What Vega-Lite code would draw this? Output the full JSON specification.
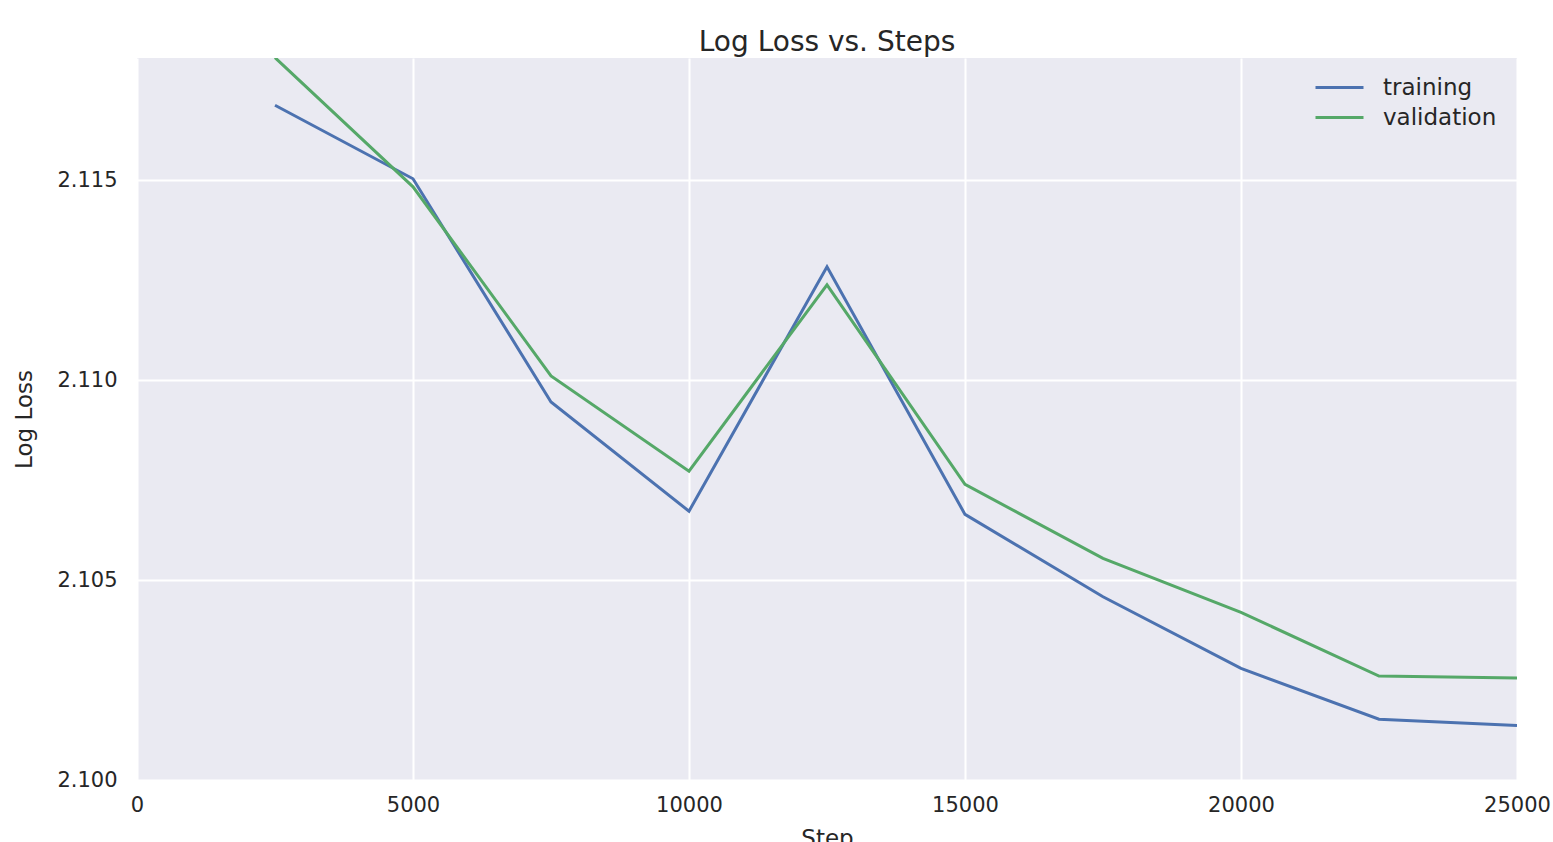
{
  "$schema": "https://vega.github.io/schema/vega-lite/v6.json",
  "width": 1380,
  "height": 722,
  "autosize": {"type": "none"},
  "padding": {"left": 137, "top": 58, "right": 36, "bottom": 62},
  "background": "#ffffff",
  "title": {
    "text": "Log Loss vs. Steps",
    "fontSize": 28,
    "fontWeight": "normal",
    "font": "DejaVu Sans",
    "color": "#262626",
    "anchor": "middle",
    "baseline": "alphabetic",
    "offset": 8,
    "dy": 29
  },
  "config": {
    "font": "DejaVu Sans",
    "view": {"fill": "#EAEAF2", "stroke": null},
    "axis": {
      "domain": false,
      "ticks": false,
      "tickSize": 0,
      "gridColor": "#ffffff",
      "gridWidth": 2,
      "gridOpacity": 1,
      "labelFont": "DejaVu Sans",
      "labelFontSize": 21,
      "labelColor": "#262626",
      "titleFont": "DejaVu Sans",
      "titleFontSize": 23,
      "titleFontWeight": "normal",
      "titleColor": "#262626"
    },
    "legend": {
      "labelFont": "DejaVu Sans",
      "labelFontSize": 23,
      "labelColor": "#262626"
    }
  },
  "data": {
    "values": [
      {"step": 2500, "loss": 2.11687, "series": "training"},
      {"step": 5000, "loss": 2.11503, "series": "training"},
      {"step": 7500, "loss": 2.10945, "series": "training"},
      {"step": 10000, "loss": 2.10672, "series": "training"},
      {"step": 12500, "loss": 2.11283, "series": "training"},
      {"step": 15000, "loss": 2.10664, "series": "training"},
      {"step": 17500, "loss": 2.10458, "series": "training"},
      {"step": 20000, "loss": 2.10279, "series": "training"},
      {"step": 22500, "loss": 2.10152, "series": "training"},
      {"step": 25000, "loss": 2.10136, "series": "training"},
      {"step": 2500, "loss": 2.11806, "series": "validation"},
      {"step": 5000, "loss": 2.11483, "series": "validation"},
      {"step": 7500, "loss": 2.1101, "series": "validation"},
      {"step": 10000, "loss": 2.10772, "series": "validation"},
      {"step": 12500, "loss": 2.11238, "series": "validation"},
      {"step": 15000, "loss": 2.10739, "series": "validation"},
      {"step": 17500, "loss": 2.10554, "series": "validation"},
      {"step": 20000, "loss": 2.10419, "series": "validation"},
      {"step": 22500, "loss": 2.1026, "series": "validation"},
      {"step": 25000, "loss": 2.10255, "series": "validation"}
    ]
  },
  "mark": {"type": "line", "strokeWidth": 3, "clip": true},
  "encoding": {
    "x": {
      "field": "step",
      "type": "quantitative",
      "title": "Step",
      "scale": {"domain": [0, 25000], "nice": false, "zero": false},
      "axis": {
        "values": [0, 5000, 10000, 15000, 20000, 25000],
        "format": "d",
        "labelPadding": 14,
        "titlePadding": 12,
        "labelFlush": false
      }
    },
    "y": {
      "field": "loss",
      "type": "quantitative",
      "title": "Log Loss",
      "scale": {"domain": [2.1, 2.11805], "nice": false, "zero": false},
      "axis": {
        "values": [2.1, 2.105, 2.11, 2.115],
        "format": ".3f",
        "labelPadding": 20,
        "titlePadding": 20,
        "labelFlush": false
      }
    },
    "color": {
      "field": "series",
      "type": "nominal",
      "scale": {"domain": ["training", "validation"], "range": ["#4C72B0", "#55A868"]},
      "legend": {
        "title": null,
        "orient": "none",
        "legendX": 1189,
        "legendY": 16,
        "padding": 0,
        "symbolType": "M-2,0H2",
        "symbolSize": 576,
        "symbolStrokeWidth": 3,
        "labelOffset": 30,
        "rowPadding": 4
      }
    }
  }
}
